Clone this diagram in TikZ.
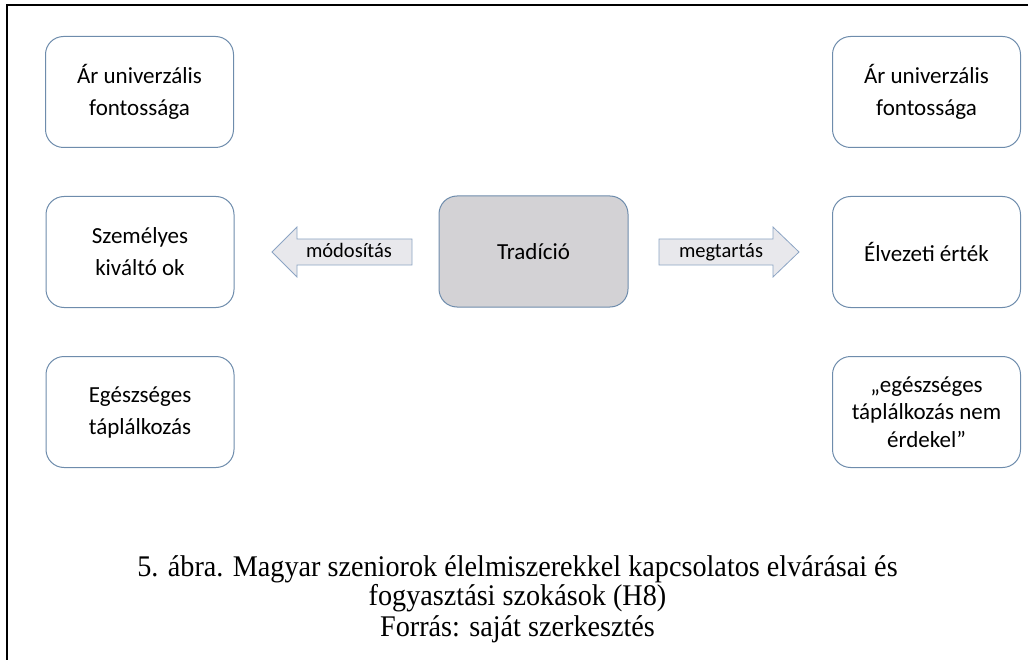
\documentclass[tikz,border=0pt]{standalone}
\usepackage{fontspec}
\setmainfont{Liberation Serif}
\newfontfamily\boxfont{Carlito}
\definecolor{boxline}{RGB}{110,140,172}
\definecolor{centerfill}{RGB}{211,210,213}
\definecolor{arrowfill}{RGB}{232,232,236}
\definecolor{arrowline}{RGB}{140,164,196}
\newcommand{\capsq}[1]{\scalebox{0.94}[1]{#1}}
\tikzset{
  card/.style={draw=boxline, line width=1pt, rounded corners=18pt, fill=white,
    minimum width=188pt, minimum height=111pt, align=center,
    font=\boxfont\fontsize{23}{32}\selectfont, inner sep=0pt},
  tightcard/.style={card, font=\boxfont\fontsize{23}{27.5}\selectfont},
  centercard/.style={card, fill=centerfill},
  blockarrow/.style={draw=arrowline, line width=0.8pt, fill=arrowfill, line join=miter},
  arrowlabel/.style={font=\boxfont\fontsize{20.5}{22}\selectfont, inner sep=0pt, anchor=base},
  caption/.style={font=\fontsize{30}{32}\selectfont, anchor=base, inner sep=0pt},
  frameline/.style={line width=2.4pt, black}
}
\begin{document}
\begin{tikzpicture}[x=1pt,y=-1pt]
\useasboundingbox (0,0) rectangle (1035,660);
% frame (top and left edges visible)
\coordinate (ftr) at (1028,5);
\coordinate (ftl) at (7,5);
\coordinate (fbl) at (7,662);
\draw[frameline] (ftr) -- (ftl) -- (fbl);
% left column
\node[card] (lt) at (139.5,92) {Ár univerzális\\fontossága};
\node[card] (lm) at (140,252) {Személyes\\kiváltó ok};
\node[card] (lb) at (140,412) {Egészséges\\táplálkozás};
% right column
\node[card] (rt) at (926.5,92) {Ár univerzális\\fontossága};
\node[card] (rm) at (926.5,252) {Élvezeti érték};
\node[tightcard] (rb) at (926.5,412) {„egészséges\\táplálkozás nem\\érdekel”};
% center
\node[centercard, minimum width=189pt] (c) at (533.5,251.5) {Tradíció};
% block arrows
\draw[blockarrow] (412,239) -- (297,239) -- (297,227) -- (272,252) -- (297,277) -- (297,265) -- (412,265) -- cycle;
\node[arrowlabel] (la) at (349,258) {módosítás};
\draw[blockarrow] (659,239) -- (773,239) -- (773,227) -- (799,252) -- (773,277) -- (773,265) -- (659,265) -- cycle;
\node[arrowlabel] (ra) at (721,258) {megtartás};
% caption
\node[caption] (cap1) at (517.5,576) {\capsq{5. ábra. Magyar szeniorok élelmiszerekkel kapcsolatos elvárásai és}};
\node[caption] (cap2) at (517.5,605) {\capsq{fogyasztási szokások (H8)}};
\node[caption] (src) at (517.5,636) {\capsq{Forrás: saját szerkesztés}};
\end{tikzpicture}
\end{document}
